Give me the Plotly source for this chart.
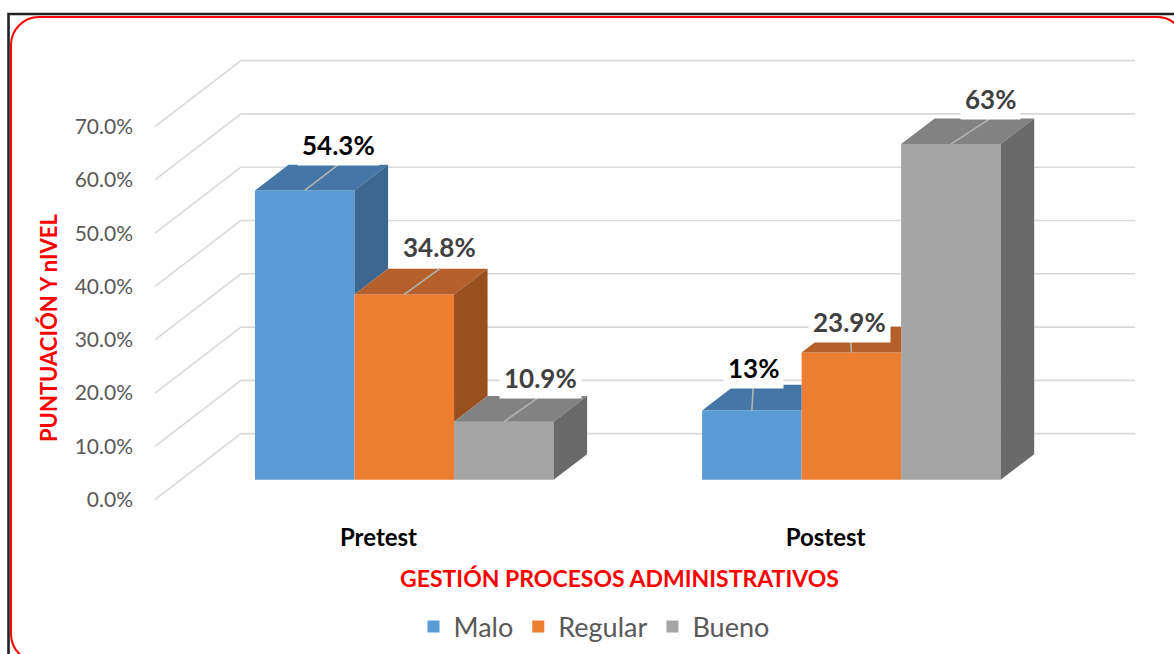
import plotly.graph_objects as go

# ---------------- data ----------------
categories = ["Pretest", "Postest"]
series_names = ["Malo", "Regular", "Bueno"]
malo = [54.3, 13.0]
regular = [34.8, 23.9]
bueno = [10.9, 63.0]
labels_malo = ["54.3%", "13%"]
labels_regular = ["34.8%", "23.9%"]
labels_bueno = ["10.9%", "63%"]
y_tick_values = [0, 10, 20, 30, 40, 50, 60, 70]
y_tick_labels = ["0.0%", "10.0%", "20.0%", "30.0%", "40.0%", "50.0%", "60.0%", "70.0%"]
x_title = "GESTIÓN PROCESOS ADMINISTRATIVOS"
y_title = "PUNTUACIÓN Y nIVEL"

series_values = [malo, regular, bueno]
series_labels = [labels_malo, labels_regular, labels_bueno]

# ---------------- styling / geometry ----------------
W, H = 1174, 654
M_L, M_R, M_T, M_B = 146, 31, 52, 149
X_RANGE = [-0.52, 1.71]
Y_RANGE = [-1, 84]
PW = W - M_L - M_R
PH = H - M_T - M_B
PX_X = PW / (X_RANGE[1] - X_RANGE[0])
PX_Y = PH / (Y_RANGE[1] - Y_RANGE[0])
DEPTH_X = 86 / PX_X          # full floor depth (x units)
DEPTH_Y = 66 / PX_Y          # full floor depth (y units)
FRONT = 0.30                 # bar front plane (fraction of depth)
BAR_DEPTH = 0.39             # bar depth (fraction of depth)
BAR_W = 0.2226
PLOT_X0, PLOT_X1 = -0.5, 1.5

FRONT_COLORS = ["#5B9BD5", "#ED7D31", "#A5A5A5"]
TOP_COLORS = ["#4576A6", "#B5602A", "#828282"]
SIDE_COLORS = ["#3B6790", "#9A4F1F", "#6A6A6A"]
LABEL_COLORS = ["#000000", "#404040", "#404040"]
LABEL_SHIFTS = [[(0, 20), (-32, 17)], [(2, 22), (-35, 5)], [(3, 18), (6, 19)]]
GRID_COLOR = "#D9D9D9"
FONT = "Lato"

fig = go.Figure()

# ---- background grid (back wall + floor diagonals) as shapes below traces ----
shapes = []
for v in y_tick_values:
    shapes.append(dict(type="line", xref="x", yref="y", layer="below",
                       x0=PLOT_X0 + DEPTH_X, y0=v + DEPTH_Y,
                       x1=PLOT_X1 + DEPTH_X, y1=v + DEPTH_Y,
                       line=dict(color=GRID_COLOR, width=1.6)))
    shapes.append(dict(type="line", xref="x", yref="y", layer="below",
                       x0=PLOT_X0, y0=v,
                       x1=PLOT_X0 + DEPTH_X, y1=v + DEPTH_Y,
                       line=dict(color=GRID_COLOR, width=1.6)))

# ---- front faces as bars ----
base = FRONT * DEPTH_Y
shift_x = FRONT * DEPTH_X
ddx = BAR_DEPTH * DEPTH_X
ddy = BAR_DEPTH * DEPTH_Y
for i, name in enumerate(series_names):
    xs = [c + (i - 1) * BAR_W + shift_x for c in range(len(categories))]
    fig.add_trace(go.Bar(
        x=xs, y=series_values[i], base=[base] * len(categories), width=BAR_W,
        name=name, marker=dict(color=FRONT_COLORS[i], line=dict(width=0)),
        hoverinfo="skip"))

# ---- top and side faces (painter order, with occlusion by neighbour) ----
def poly(xs, ys, color):
    fig.add_trace(go.Scatter(x=xs + [xs[0]], y=ys + [ys[0]], mode="lines",
                             fill="toself", fillcolor=color,
                             line=dict(width=0, color=color),
                             hoverinfo="skip", showlegend=False))

annotations = []
for c in range(len(categories)):
    for i in range(len(series_names)):
        v = series_values[i][c]
        xc = c + (i - 1) * BAR_W + shift_x
        xl, xr = xc - BAR_W / 2, xc + BAR_W / 2
        yb, yt = base, base + v
        nxt = series_values[i + 1][c] if i + 1 < len(series_names) else None
        # top face
        if nxt is not None and nxt > v:
            poly([xl, xr, xr, xl + ddx], [yt, yt, yt + ddy, yt + ddy], TOP_COLORS[i])
        else:
            poly([xl, xr, xr + ddx, xl + ddx], [yt, yt, yt + ddy, yt + ddy], TOP_COLORS[i])
        # side face
        if nxt is None:
            poly([xr, xr, xr + ddx, xr + ddx], [yb, yt, yt + ddy, yb + ddy], SIDE_COLORS[i])
        elif nxt < v:
            low = base + nxt
            poly([xr, xr, xr + ddx, xr + ddx], [low, yt, yt + ddy, low + ddy], SIDE_COLORS[i])
        # leader line and label
        sx, sy = LABEL_SHIFTS[i][c]
        lx = xc + ddx + sx / PX_X
        fig.add_trace(go.Scatter(x=[xc, lx], y=[yt, yt + ddy], mode="lines",
                                 line=dict(color="#B4B4B4", width=1.6),
                                 hoverinfo="skip", showlegend=False))
        annotations.append(dict(
            x=xc + ddx, y=yt + ddy, xref="x", yref="y", text=series_labels[i][c],
            showarrow=False, xshift=sx, yshift=sy, yanchor="middle",
            font=dict(family=FONT, size=26, color=LABEL_COLORS[i], weight="bold"),
            bgcolor="white", borderpad=4))

# ---- titles ----
def pxp(x):
    return (x - M_L) / PW


def pyp(y):
    return (H - M_B - y) / PH


annotations.append(dict(x=pxp(619), y=pyp(578), xref="paper", yref="paper",
                        text=x_title, showarrow=False, xanchor="center", yanchor="middle",
                        font=dict(family=FONT, size=23, color="#FF0000", weight="bold")))
annotations.append(dict(x=pxp(48), y=pyp(328), xref="paper", yref="paper",
                        text=y_title, showarrow=False, textangle=-90,
                        xanchor="center", yanchor="middle",
                        font=dict(family=FONT, size=22, color="#FF0000", weight="bold")))

# ---- frame ----
shapes.append(dict(type="path", xref="paper", yref="paper", layer="above",
                   path=f"M {pxp(8.5)},{pyp(720)} L {pxp(8.5)},{pyp(14)} L {pxp(1250)},{pyp(14)}",
                   line=dict(color="#222222", width=2.6)))
L_, T_, R_, B_, RAD = 11, 17, 1185, 662, 28
k = RAD * 0.448
red_path = (
    f"M {pxp(L_ + RAD)},{pyp(T_)} L {pxp(R_ - RAD)},{pyp(T_)} "
    f"C {pxp(R_ - k)},{pyp(T_)} {pxp(R_)},{pyp(T_ + k)} {pxp(R_)},{pyp(T_ + RAD)} "
    f"L {pxp(R_)},{pyp(B_ - RAD)} "
    f"C {pxp(R_)},{pyp(B_ - k)} {pxp(R_ - k)},{pyp(B_)} {pxp(R_ - RAD)},{pyp(B_)} "
    f"L {pxp(L_ + RAD)},{pyp(B_)} "
    f"C {pxp(L_ + k)},{pyp(B_)} {pxp(L_)},{pyp(B_ - k)} {pxp(L_)},{pyp(B_ - RAD)} "
    f"L {pxp(L_)},{pyp(T_ + RAD)} "
    f"C {pxp(L_)},{pyp(T_ + k)} {pxp(L_ + k)},{pyp(T_)} {pxp(L_ + RAD)},{pyp(T_)} Z"
)
shapes.append(dict(type="path", xref="paper", yref="paper", layer="above",
                   path=red_path, line=dict(color="#FF0000", width=2)))

fig.update_layout(
    width=W, height=H,
    margin=dict(l=M_L, r=M_R, t=M_T, b=M_B, autoexpand=False),
    paper_bgcolor="white", plot_bgcolor="white",
    barmode="overlay",
    shapes=shapes, annotations=annotations,
    showlegend=True,
    legend=dict(orientation="h", x=pxp(594), y=pyp(627), xanchor="center", yanchor="middle",
                font=dict(family=FONT, size=27, color="#595959"),
                bgcolor="rgba(0,0,0,0)", itemwidth=30, traceorder="normal"),
    xaxis=dict(range=X_RANGE, tickvals=list(range(len(categories))), ticktext=categories,
               showgrid=False, zeroline=False, showline=False, ticks="",
               tickfont=dict(family=FONT, size=24, color="#000000", weight="bold"),
               ticklabelstandoff=16, automargin=False, fixedrange=True),
    yaxis=dict(range=Y_RANGE, tickvals=y_tick_values, ticktext=y_tick_labels,
               showgrid=False, zeroline=False, showline=False, ticks="",
               tickfont=dict(family=FONT, size=21, color="#595959"),
               ticklabelstandoff=12, automargin=False, fixedrange=True),
    font=dict(family=FONT),
)

fig.write_html("out.html", config={"displayModeBar": False},
               post_script="document.body.style.margin='0px';")
